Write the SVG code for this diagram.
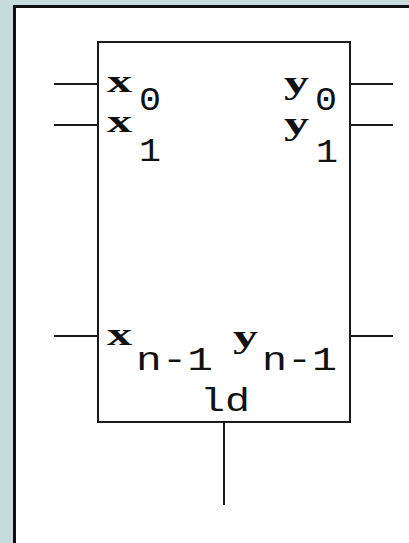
<svg xmlns="http://www.w3.org/2000/svg" width="409" height="543" viewBox="0 0 409 543">
<style>
.w{stroke:#1a1a1a;stroke-width:2;fill:none}
.v{font-family:"Liberation Serif","Times New Roman",serif;font-weight:bold;font-size:32px;fill:#111}
.s{font-family:"Liberation Mono","Courier New",monospace;font-size:34px;fill:#111}
</style>
<rect x="0" y="0" width="409" height="543" fill="#c6dbdc"/>
<rect x="14.5" y="6.5" width="400" height="540" fill="#fff" stroke="#111" stroke-width="3"/>
<g id="block">
<rect x="98" y="42" width="252" height="380" fill="#fff" stroke="#1a1a1a" stroke-width="2"/>
<text class="v" x="107" y="92" textLength="25" lengthAdjust="spacingAndGlyphs">x</text><text class="s" x="139" y="110" textLength="22" lengthAdjust="spacingAndGlyphs">0</text>
<text class="v" x="107" y="132" textLength="25" lengthAdjust="spacingAndGlyphs">x</text><text class="s" x="139" y="161" textLength="22" lengthAdjust="spacingAndGlyphs">1</text>
<text class="v" x="284" y="93" textLength="25" lengthAdjust="spacingAndGlyphs">y</text><text class="s" x="315" y="110" textLength="22" lengthAdjust="spacingAndGlyphs">0</text>
<text class="v" x="284" y="134" textLength="25" lengthAdjust="spacingAndGlyphs">y</text><text class="s" x="316" y="162" textLength="22" lengthAdjust="spacingAndGlyphs">1</text>
<text class="v" x="107" y="345" textLength="25" lengthAdjust="spacingAndGlyphs">x</text><text class="s" x="136" y="370" textLength="77" lengthAdjust="spacingAndGlyphs">n-1</text>
<text class="v" x="233" y="347" textLength="25" lengthAdjust="spacingAndGlyphs">y</text><text class="s" x="262" y="370" textLength="75" lengthAdjust="spacingAndGlyphs">n-1</text>
<text class="s" x="200" y="411" textLength="50" lengthAdjust="spacingAndGlyphs">ld</text>
</g>
<g id="connectors">
<line class="w" x1="54" y1="84" x2="98" y2="84"/>
<line class="w" x1="54" y1="125" x2="98" y2="125"/>
<line class="w" x1="54" y1="336" x2="98" y2="336"/>
<line class="w" x1="350" y1="84" x2="393" y2="84"/>
<line class="w" x1="350" y1="125" x2="393" y2="125"/>
<line class="w" x1="350" y1="336" x2="393" y2="336"/>
<line class="w" x1="224" y1="422" x2="224" y2="505"/>
</g>
</svg>
